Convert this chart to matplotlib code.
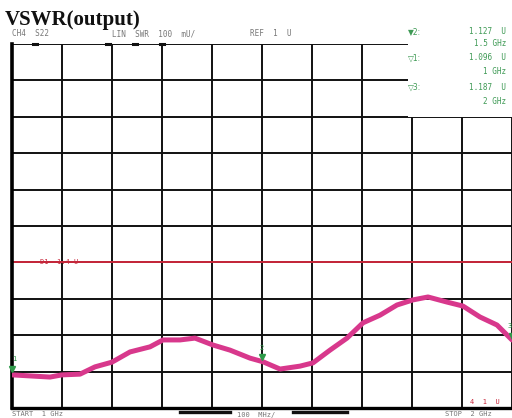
import matplotlib
matplotlib.use("Agg")
import matplotlib.pyplot as plt
from matplotlib.patches import Rectangle

# trace (GHz, VSWR)
freq = [1.0, 1.076, 1.1, 1.136, 1.166, 1.2, 1.236, 1.276, 1.302, 1.336, 1.366,
        1.402, 1.436, 1.476, 1.502, 1.536, 1.576, 1.602, 1.636, 1.67, 1.702,
        1.736, 1.77, 1.802, 1.832, 1.87, 1.902, 1.936, 1.97, 2.0]
vswr = [1.091, 1.085, 1.091, 1.093, 1.113, 1.126, 1.154, 1.168, 1.187, 1.187,
        1.192, 1.173, 1.159, 1.137, 1.127, 1.107, 1.115, 1.124, 1.159, 1.192,
        1.234, 1.255, 1.283, 1.297, 1.305, 1.291, 1.280, 1.250, 1.228, 1.187]

limit = 1.4
mk_freq = [1.0, 1.5, 2.0]
mk_val = [1.096, 1.127, 1.187]
mk_names = ["1", "2", "3"]

# little black bars on the screen frame
top_bars = [1.046, 1.192, 1.246, 1.3]
bottom_bars = [(1.336, 1.436), (1.562, 1.67)]

W, H = 512, 418
fig = plt.figure(figsize=(W / 100, H / 100), dpi=100)
ax = fig.add_axes([12 / W, 10 / H, 500 / W, 364 / H])
ax.set_xlim(1.0, 2.0)
ax.set_ylim(1.0, 2.0)
ax.set_xticks([1.0 + 0.1 * i for i in range(11)])
ax.set_yticks([1.0 + 0.1 * i for i in range(11)])
ax.tick_params(length=0, labelbottom=False, labelleft=False)
ax.set_axisbelow(True)
ax.grid(True, color="#111111", lw=1.4)
for s in ["top", "right"]:
    ax.spines[s].set_visible(False)
ax.spines["left"].set_linewidth(2.6)
ax.spines["bottom"].set_linewidth(2.4)

# white box where the marker readout sits
ax.add_patch(Rectangle((1.792, 1.8), 0.25, 0.3, facecolor="white",
                       edgecolor="none", zorder=1, clip_on=False))

ax.axhline(limit, color="#c8283c", lw=1.4, zorder=2)
ax.plot(freq, vswr, color="#d8388c", lw=3.6, solid_capstyle="round", zorder=3)

for f, v, n in zip(mk_freq, mk_val, mk_names):
    ha = "right" if f >= 2.0 else ("left" if f <= 1.0 else "center")
    ax.plot(f, v + 0.012, marker="v", ms=4, color="#2f9a4a", zorder=4, clip_on=False)
    ax.text(f, v + 0.03, n, color="#2f9a4a", fontsize=5, ha=ha, va="bottom",
            family="DejaVu Sans Mono", zorder=4)

for f in top_bars:
    ax.plot([f - 0.004, f + 0.004], [2.0, 2.0], color="#111111", lw=2.2,
            clip_on=False, zorder=4)
for f0, f1 in bottom_bars:
    ax.plot([f0, f1], [0.99, 0.99], color="#111111", lw=2.4, clip_on=False, zorder=4)


def px(x, y, s, **kw):
    kw.setdefault("family", "DejaVu Sans Mono")
    kw.setdefault("fontsize", 5.5)
    kw.setdefault("color", "#777777")
    kw.setdefault("va", "center")
    fig.text(x / W, 1 - y / H, s, **kw)


fig.text(5 / W, 1 - 25 / H, "VSWR(output)", family="Liberation Serif",
         fontweight="bold", fontsize=15, color="#111111", va="baseline")

px(12, 34, "CH4  S22")
px(112, 34, "LIN  SWR  100  mU/")
px(250, 34, "REF  1  U")

green = "#3f9a55"
px(408, 32, "\u25bc2:", color=green, family="DejaVu Sans")
px(506, 32, "1.127  U", color=green, ha="right")
px(506, 44, "1.5 GHz", color=green, ha="right")
px(408, 58, "\u25bd1:", color=green, family="DejaVu Sans")
px(506, 58, "1.096  U", color=green, ha="right")
px(506, 72, "1 GHz", color=green, ha="right")
px(408, 87, "\u25bd3:", color=green, family="DejaVu Sans")
px(506, 87, "1.187  U", color=green, ha="right")
px(506, 101, "2 GHz", color=green, ha="right")

px(40, 262, "D1  1.4 U", color="#c8283c", fontsize=5)
px(470, 402, "4  1  U", color="#c8283c", fontsize=5)

px(12, 414.5, "START  1 GHz", fontsize=5)
px(237, 414.5, "100  MHz/", fontsize=5)
px(445, 414.5, "STOP  2 GHz", fontsize=5)

fig.savefig("out.png", dpi=100)
